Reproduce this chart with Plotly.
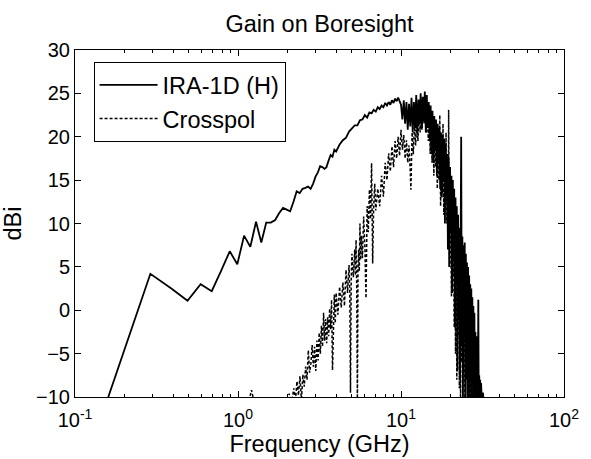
import plotly.graph_objects as go

# ---------------- data ----------------
ira_freq = [0.16, 0.29, 0.39, 0.49, 0.59, 0.69, 0.79, 0.89, 0.99, 1.09,
            1.19, 1.29, 1.39, 1.49, 1.59, 1.69, 1.79, 1.89, 1.99, 2.09,
            2.19, 2.29, 2.39, 2.49, 2.59, 2.69, 2.79, 2.89, 2.99, 3.09,
            3.19, 3.29, 3.39, 3.49, 3.6, 3.7, 3.8, 3.9, 4.0, 4.2,
            4.4, 4.6, 4.8, 5.0, 5.2, 5.4, 5.6, 5.8, 6.0, 6.2,
            6.4, 6.6, 6.8, 7.0, 7.2, 7.4, 7.6, 7.8, 8.0, 8.2,
            8.4, 8.6, 8.8, 9.0, 9.2, 9.4, 9.6, 9.8, 10.0,
            10.2, 10.4, 10.6, 10.8, 11.0, 11.2, 11.4, 11.6, 11.8, 12.0,
            12.2, 12.4, 12.6, 12.8, 13.0, 13.2, 13.4, 13.6, 13.8, 14.0,
            14.2, 14.4, 14.6, 14.8, 15.0, 15.2, 15.4, 15.6, 15.8, 16.0,
            16.2, 16.4, 16.6, 16.8, 17.0, 17.2, 17.4, 17.6, 17.8, 18.0,
            18.2, 18.4, 18.6, 18.8, 19.0, 19.2, 19.4, 19.6, 19.8, 20.0,
            20.2, 20.4, 20.6, 20.8, 21.0, 21.2, 21.4, 21.6, 21.8, 22.0,
            22.2, 22.4, 22.6, 22.8, 23.0, 23.2, 23.4, 23.6, 23.8, 24.0,
            24.2, 24.4, 24.6, 24.8, 25.0, 25.2, 25.4, 25.6, 25.8, 26.0,
            26.2, 26.4, 26.6, 26.8, 27.0, 27.2, 27.4, 27.6, 27.8, 28.0,
            28.2, 28.4, 28.6, 28.8, 29.0, 29.2, 29.4, 29.6, 29.8, 30.0,
            30.2, 30.4, 30.6, 30.8, 31.0, 31.4, 31.8, 32.4]
ira_gain = [-10.0, 4.2, 2.5, 1.1, 3.0, 2.2, 4.6, 6.8, 5.3, 8.6,
            7.3, 10.2, 7.8, 10.1, 10.1, 10.4, 11.2, 11.8, 11.6, 11.4,
            12.5, 13.7, 13.5, 14.0, 14.1, 14.25, 14.0, 14.6, 15.4, 15.9,
            16.6, 16.5, 16.3, 16.5, 17.3, 17.9, 17.7, 18.5, 18.3, 19.1,
            19.6, 19.9, 20.6, 20.9, 21.3, 21.3, 21.9, 22.0, 22.5, 22.2,
            22.8, 22.7, 23.1, 22.9, 23.4, 23.2, 23.6, 23.4, 23.9, 23.6,
            24.0, 23.7, 24.2, 23.9, 24.4, 24.1, 24.5, 24.1, 23.7,
            22.0, 24.2, 21.5, 24.0, 20.8, 23.8, 21.2, 24.5, 20.5, 24.0,
            21.0, 24.8, 20.2, 24.3, 21.5, 25.0, 20.8, 24.6, 21.8, 25.2,
            20.5, 24.8, 21.0, 24.0, 19.5, 23.6, 18.0, 23.0, 17.0, 22.4,
            18.5, 22.0, 15.5, 21.5, 17.0, 21.0, 14.0, 20.5, 13.0, 20.2,
            15.0, 19.8, 10.0, 19.0, 12.5, 18.0, 7.0, 17.5, 5.0, 16.5,
            9.0, 15.5, 2.0, 15.0, 6.0, 14.0, -2.0, 13.0, 3.0, 12.0,
            -7.0, 11.0, -1.0, 9.5, -8.0, 14.0, 20.0, -4.0, 8.5, -10.5,
            7.5, -2.0, 7.8, -11.0, 6.5, -5.0, 5.5, -11.0, 5.0, -7.0,
            4.0, -11.0, 3.0, -8.0, 2.5, -11.0, 1.5, -8.5, 0.5, -11.0,
            -0.3, -9.5, -2.5, -11.0, -3.0, -10.0, -4.5, -11.0, 1.2, -11.0,
            -7.5, -11.0, -8.0, -11.0, -8.4, -11.0, -9.5, -11.0]

xpol_freq = [1.15, 1.21, 1.27, 2.0, 2.06, 2.12, 2.2, 2.25, 2.3, 2.35,
             2.4, 2.45, 2.5, 2.55, 2.6, 2.65, 2.7, 2.75, 2.8, 2.85,
             2.9, 2.95, 3.0, 3.05, 3.1, 3.15, 3.2, 3.25, 3.3, 3.35,
             3.4, 3.45, 3.5, 3.55, 3.6, 3.65, 3.7, 3.75, 3.8, 3.85,
             3.9, 3.95, 4.0, 4.1, 4.2, 4.3, 4.4, 4.5, 4.6, 4.7,
             4.8, 4.85, 4.9, 4.95, 5.0, 5.1, 5.2, 5.25, 5.3, 5.35,
             5.4, 5.45, 5.5, 5.55, 5.6, 5.65, 5.7, 5.8, 5.9, 6.0,
             6.1, 6.2, 6.3, 6.4, 6.5, 6.6, 6.7, 6.8, 6.9, 7.0,
             7.2, 7.4, 7.6, 7.8, 8.0, 8.2, 8.4, 8.6, 8.8, 9.0,
             9.2, 9.4, 9.6, 9.8, 10.0, 10.2, 10.4, 10.6, 10.8, 11.0,
             11.2, 11.4, 11.5, 11.7, 11.9, 12.1, 12.3, 12.5, 12.7, 12.9,
             13.1, 13.3, 13.5, 13.7, 13.9, 14.1, 14.3, 14.5, 14.7, 14.9,
             15.1, 15.3, 15.5, 15.7, 15.9, 16.1, 16.3, 16.5, 16.7, 16.9,
             17.1, 17.3, 17.5, 17.7, 17.9, 18.1, 18.3, 18.5, 18.7, 18.9,
             19.1, 19.3, 19.5, 19.6, 19.8, 20.0, 20.2, 20.4, 20.6, 20.8,
             21.0, 21.2, 21.4, 21.6, 21.8, 22.0, 22.2, 22.4, 22.6, 22.8,
             23.0, 23.2, 23.4, 23.6, 23.8, 24.1, 24.4, 24.7, 25.0, 25.3,
             25.6, 25.9, 26.2, 26.5, 26.8, 27.1, 27.4, 27.8, 28.2, 28.6,
             29.0]
xpol_gain = [-11.0, -9.2, -11.0, -11.0, -9.6, -11.0, -9.0, -10.5, -8.2, -9.8,
             -7.6, -10.5, -7.4, -8.8, -6.5, -8.0, -4.6, -7.2, -6.1, -4.0,
             -6.5, -4.2, -7.0, -3.5, -5.8, -2.6, -5.0, -1.8, -4.2, -0.3,
             -3.5, -1.0, -3.8, -0.8, -3.0, 0.2, -2.2, 1.2, -6.9, 0.5,
             1.8, -1.5, 2.0, -0.5, 2.7, 0.3, 3.2, 0.5, 4.65, 2.0,
             5.2, 2.0, -9.5, 3.5, 6.5, 3.8, 7.0, 4.0, 8.1, 2.5,
             -10.5, 5.0, 7.0, 4.5, 10.0, 5.8, 8.6, 6.0, 10.8, 7.5,
             1.4, 12.0, 9.0, 13.9, 10.5, 16.95, 5.4, 12.0, 14.6, 11.5,
             14.0, 12.0, 15.5, 13.1, 17.0, 15.0, 18.1, 16.0, 18.9, 16.5,
             19.5, 17.5, 20.0, 17.8, 20.8, 18.5, 20.2, 17.5, 19.6, 17.0,
             19.0, 16.0, 13.9, 20.5, 18.0, 21.5, 19.0, 22.0, 19.5, 23.2,
             20.5, 24.2, 21.0, 24.0, 21.5, 24.6, 20.5, 23.8, 19.5, 23.0,
             18.0, 22.5, 17.0, 22.0, 15.5, 21.9, 16.5, 21.0, 14.0, 20.5,
             15.0, 22.5, 12.0, 20.0, 13.5, 21.5, 11.0, 19.5, 12.5, 20.5,
             10.0, 18.0, 8.0, 23.1, 5.0, 14.0, 6.5, 1.6, 12.0, 4.0,
             11.0, -2.0, 9.0, -5.0, 10.0, -8.0, 7.0, -3.0, 6.0, -9.0,
             5.0, -11.0, 4.0, -6.0, 3.0, -4.2, 2.0, -11.0, 0.5, -8.0,
             -1.0, -11.0, -3.0, -8.0, -11.0, -6.0, -11.0, -8.5, -11.0, -9.0,
             -11.0]

x_tick_vals = [0.1, 1, 10, 100]
x_tick_text = ["10<sup>-1</sup>", "10<sup>0</sup>", "10<sup>1</sup>", "10<sup>2</sup>"]
y_tick_vals = [-10, -5, 0, 5, 10, 15, 20, 25, 30]

# ---------------- figure ----------------
FONT = "Liberation Sans, Arial, sans-serif"
BIG = 23.5
fig = go.Figure()
fig.add_trace(go.Scatter(x=ira_freq, y=ira_gain, mode="lines", name="IRA-1D (H)",
                         line=dict(color="black", width=1.8)))
fig.add_trace(go.Scatter(x=xpol_freq, y=xpol_gain, mode="lines", name="Crosspol",
                         line=dict(color="black", width=1.5, dash="3px,2px")))

minor_vals = [m * 10.0 ** e for e in (-1, 0, 1) for m in range(2, 10)]

fig.update_layout(
    width=591, height=459,
    margin=dict(l=75, r=17, t=50, b=62),
    paper_bgcolor="white", plot_bgcolor="white",
    font=dict(family=FONT, color="black", size=20),
    title=dict(text="Gain on Boresight", x=0.5, xref="paper", xanchor="center",
               y=1 - 24 / 459, yref="container", yanchor="middle",
               font=dict(size=BIG, family=FONT, color="black")),
    showlegend=True,
    legend=dict(x=0.038, y=0.965, xanchor="left", yanchor="top",
                bgcolor="white", bordercolor="black", borderwidth=1,
                font=dict(size=BIG, family=FONT, color="black"),
                itemwidth=58, tracegroupgap=0),
    xaxis=dict(type="log", range=[-1, 2], tickmode="array",
               tickvals=x_tick_vals, ticktext=x_tick_text,
               ticks="inside", ticklen=6, tickcolor="black",
               ticklabelstandoff=5,
               showline=True, linecolor="black", linewidth=1, mirror="ticks",
               showgrid=False, zeroline=False,
               minor=dict(tickvals=minor_vals, ticks="inside", ticklen=3,
                          tickcolor="black", showgrid=False),
               tickfont=dict(size=20, family=FONT, color="black"),
               title=dict(text="Frequency (GHz)", standoff=0,
                          font=dict(size=BIG, family=FONT, color="black"))),
    yaxis=dict(range=[-10, 30], tickmode="array", tickvals=y_tick_vals,
               ticks="inside", ticklen=6, tickcolor="black",
               showline=True, linecolor="black", linewidth=1, mirror="ticks",
               showgrid=False, zeroline=False,
               tickfont=dict(size=20, family=FONT, color="black"),
               title=dict(text="dBi", standoff=8,
                          font=dict(size=BIG, family=FONT, color="black"))),
)

fig.write_html("out.html")
